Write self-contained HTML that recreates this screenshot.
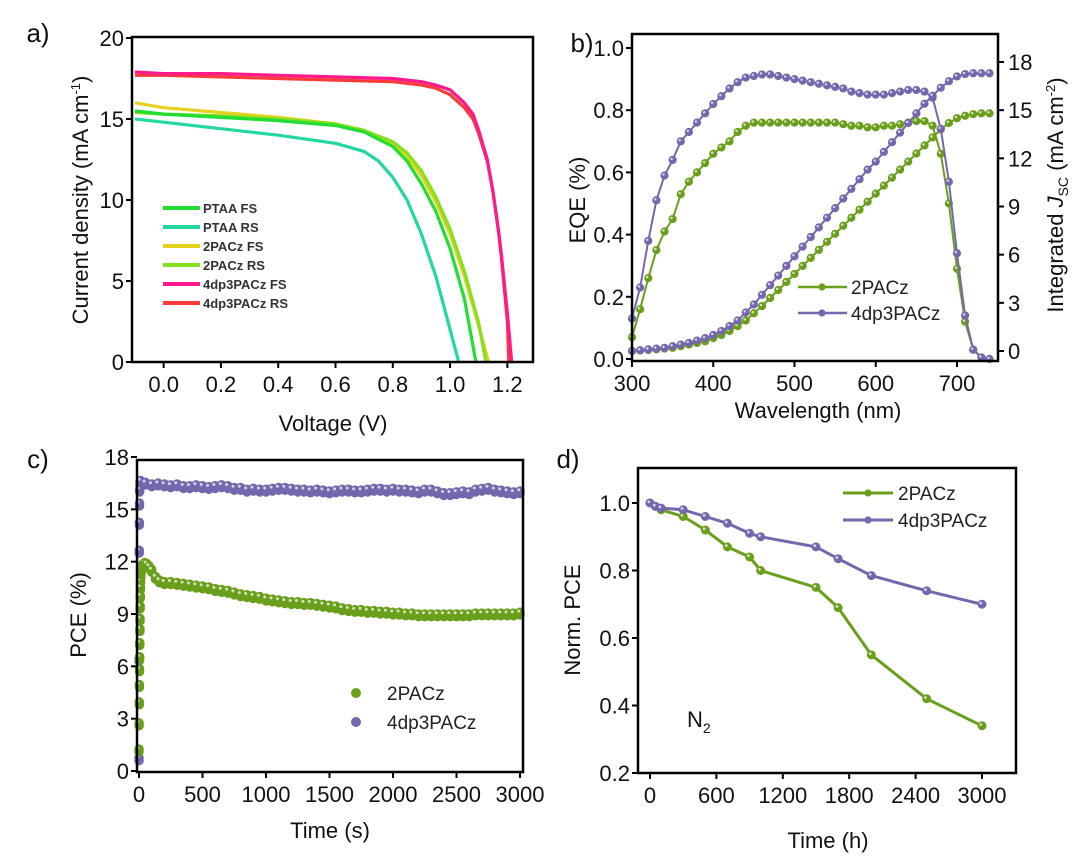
<!DOCTYPE html>
<html><head><meta charset="utf-8"><style>
html,body{margin:0;padding:0;background:#fff;}
svg{display:block;font-family:"Liberation Sans",Arial,sans-serif;}
</style></head><body>
<svg id="fig" width="1080" height="861" viewBox="0 0 1080 861" xmlns="http://www.w3.org/2000/svg"></svg>
<script>
// ---- Panel a data (J-V) ----
const jvNames = ["PTAA FS","PTAA RS","2PACz FS","2PACz RS","4dp3PACz FS","4dp3PACz RS"];
const ptaaFsV = [-0.1,0,0.2,0.4,0.6,0.7,0.8,0.85,0.9,0.95,1.0,1.05,1.09];
const ptaaFsJ = [15.5,15.3,15.1,14.9,14.6,14.2,13.3,12.4,11.0,9.3,7.0,3.9,0];
const ptaaRsV = [-0.1,0,0.2,0.4,0.6,0.7,0.75,0.8,0.85,0.9,0.95,1.0,1.03];
const ptaaRsJ = [15.0,14.8,14.4,14.0,13.5,13.0,12.4,11.4,10.0,7.9,5.3,2.0,0];
const pacFsV = [-0.1,0,0.2,0.4,0.6,0.7,0.8,0.85,0.9,0.95,1.0,1.05,1.1,1.135];
const pacFsJ = [16.0,15.7,15.4,15.1,14.7,14.3,13.5,12.7,11.5,9.9,7.9,5.3,2.2,0];
const pacRsV = [-0.1,0,0.2,0.4,0.6,0.7,0.8,0.85,0.9,0.95,1.0,1.05,1.1,1.125];
const pacRsJ = [15.4,15.3,15.2,15.0,14.7,14.3,13.6,12.9,11.8,10.2,8.2,5.6,2.4,0];
const dpFsV = [-0.1,0,0.2,0.4,0.6,0.8,0.9,0.95,1.0,1.05,1.08,1.1,1.13,1.15,1.17,1.18,1.2,1.215];
const dpFsJ = [17.9,17.8,17.8,17.7,17.6,17.5,17.3,17.1,16.8,16.0,15.3,14.3,12.5,10.5,8.0,6.5,3.0,0];
const dpRsV = [-0.1,0,0.2,0.4,0.6,0.8,0.9,0.95,1.0,1.05,1.08,1.1,1.13,1.15,1.17,1.18,1.2,1.205];
const dpRsJ = [17.7,17.7,17.6,17.5,17.4,17.3,17.1,16.9,16.5,15.7,15.0,14.1,12.4,10.5,7.9,6.3,2.5,0];
const jvColors = ["#22dd33","#22d8a0","#e6d21e","#86e01e","#ff1a8c","#ff3a3a"];
const aXTicks = [0,0.2,0.4,0.6,0.8,1.0,1.2];
const aYTicks = [0,5,10,15,20];

// ---- Panel b data (EQE) ----
const wl = [300,310,320,330,340,350,360,370,380,390,400,410,420,430,440,450,460,470,480,490,500,510,520,530,540,550,560,570,580,590,600,610,620,630,640,650,660,670,680,690,700,710,720,730,740];
const eqeDp = [0.13,0.23,0.38,0.51,0.59,0.64,0.70,0.73,0.76,0.79,0.82,0.845,0.87,0.89,0.905,0.91,0.915,0.915,0.91,0.905,0.90,0.895,0.89,0.885,0.88,0.875,0.87,0.86,0.855,0.85,0.85,0.85,0.855,0.86,0.865,0.865,0.86,0.84,0.74,0.57,0.34,0.14,0.03,0.005,0];
const eqePac = [0.07,0.16,0.26,0.35,0.41,0.45,0.53,0.57,0.60,0.63,0.66,0.68,0.70,0.73,0.75,0.76,0.76,0.76,0.76,0.76,0.76,0.76,0.76,0.76,0.76,0.76,0.755,0.75,0.75,0.745,0.745,0.75,0.75,0.755,0.76,0.765,0.765,0.75,0.66,0.50,0.29,0.12,0.03,0.005,0];
const jscDp = [0,0.05,0.1,0.15,0.2,0.3,0.4,0.5,0.65,0.8,1.0,1.25,1.55,1.9,2.4,2.9,3.5,4.1,4.7,5.3,5.9,6.5,7.1,7.7,8.3,8.9,9.5,10.1,10.7,11.3,11.8,12.4,13.0,13.6,14.2,14.8,15.4,15.9,16.4,16.8,17.1,17.25,17.3,17.3,17.3];
const jscPac = [0,0.03,0.06,0.1,0.15,0.2,0.3,0.4,0.5,0.6,0.8,1.0,1.25,1.55,1.9,2.35,2.8,3.3,3.8,4.3,4.8,5.3,5.8,6.3,6.8,7.3,7.8,8.3,8.8,9.3,9.8,10.3,10.8,11.3,11.8,12.3,12.8,13.3,13.8,14.2,14.5,14.65,14.75,14.8,14.8];
const bXTicks = [300,400,500,600,700];
const bYTicks = [0,0.2,0.4,0.6,0.8,1.0];
const bYLabels = ["0.0","0.2","0.4","0.6","0.8","1.0"];
const bY2Ticks = [0,3,6,9,12,15,18];

// ---- Panel c data (PCE tracking) ----
const cGreenT = [0,1,2,3,4,5,6,7,8,9,10,11,12,14,16,20,30,45,60,80,100,130,160,200,250,300,350,400,450,500,550,600,650,700,750,800,850,900,950,1000,1050,1100,1150,1200,1250,1300,1350,1400,1450,1500,1550,1600,1650,1700,1750,1800,1850,1900,1950,2000,2050,2100,2150,2200,2250,2300,2350,2400,2450,2500,2550,2600,2650,2700,2750,2800,2850,2900,2950,3000];
const cGreenV = [1.1,2.6,3.8,4.8,5.7,6.4,7.2,8.0,8.6,9.3,9.9,10.4,10.8,11.1,11.3,11.5,11.7,11.8,11.75,11.6,11.4,11.0,10.8,10.7,10.7,10.65,10.6,10.55,10.5,10.45,10.4,10.3,10.25,10.2,10.1,10.0,9.95,9.9,9.85,9.75,9.7,9.65,9.6,9.55,9.55,9.5,9.5,9.45,9.4,9.35,9.3,9.2,9.15,9.1,9.1,9.05,9.05,9.0,9.0,8.95,8.95,8.9,8.9,8.85,8.85,8.85,8.85,8.85,8.85,8.85,8.85,8.85,8.9,8.9,8.9,8.9,8.9,8.9,8.9,8.95];
const cPurpleT = [0,1,2,3,4,5,8,12,50,100,150,200,250,300,350,400,450,500,550,600,650,700,750,800,850,900,950,1000,1050,1100,1150,1200,1250,1300,1350,1400,1450,1500,1550,1600,1650,1700,1750,1800,1850,1900,1950,2000,2050,2100,2150,2200,2250,2300,2350,2400,2450,2500,2550,2600,2650,2700,2750,2800,2850,2900,2950,3000];
const cPurpleV = [0.6,6.3,12.5,14.1,15.2,16.0,16.4,16.5,16.4,16.3,16.35,16.3,16.25,16.3,16.2,16.2,16.25,16.2,16.15,16.2,16.25,16.2,16.1,16.1,16.0,16.05,16.0,16.0,16.05,16.1,16.1,16.05,16.0,16.0,15.95,16.0,15.95,15.9,15.95,16.0,16.0,15.95,15.95,16.0,16.05,16.05,16.0,16.05,16.0,16.0,15.95,15.9,16.0,16.0,15.9,15.8,15.8,15.85,15.9,15.85,16.0,16.05,16.1,16.0,15.95,15.9,15.85,15.9];
const cXTicks = [0,500,1000,1500,2000,2500,3000];
const cYTicks = [0,3,6,9,12,15,18];

// ---- Panel d data (stability) ----
const dT = [0,50,100,300,500,700,900,1000,1500,1700,2000,2500,3000];
const dGreen = [1.0,0.99,0.98,0.96,0.92,0.87,0.84,0.80,0.75,0.69,0.55,0.42,0.34];
const dPurple = [1.0,0.99,0.985,0.98,0.96,0.94,0.91,0.90,0.87,0.835,0.785,0.74,0.70];
const dXTicks = [0,600,1200,1800,2400,3000];
const dYTicks = [0.2,0.4,0.6,0.8,1.0];

const GREEN = "#6a9f1c", PURPLE = "#7467ad";
const TF = 22, AF = 22;
const NS = "http://www.w3.org/2000/svg";
const svg = document.getElementById("fig");
function el(tag, attrs, parent, text){
  const e = document.createElementNS(NS, tag);
  for (const k in attrs) e.setAttribute(k, attrs[k]);
  if (text !== undefined) e.textContent = text;
  (parent || svg).appendChild(e);
  return e;
}
function scale(d0,d1,r0,r1){ return v => r0 + (v-d0)*(r1-r0)/(d1-d0); }

function frame(g, L, T, R, B){
  const f = el("rect",{x:L,y:T,width:R-L,height:B-T,fill:"none",stroke:"#000","stroke-width":2.5},g);
  
  
}
function xTicks(g, ticks, labels, sx, B, fs){
  ticks.forEach((t,i)=>{
    const x = sx(t);
    const tk = el("line",{x1:x,y1:B,x2:x,y2:B+6,stroke:"#000","stroke-width":2},g);
    
    
    const lb = el("text",{x:x,y:B+30,"font-size":fs,"text-anchor":"middle",fill:"#111"},g,labels[i]);
    
    
  });
}
function yTicks(g, ticks, labels, sy, L, fs, right){
  ticks.forEach((t,i)=>{
    const y = sy(t);
    const tk = el("line",{x1:L,y1:y,x2:right?L+6:L-6,y2:y,stroke:"#000","stroke-width":2},g);
    
    
    const lb = el("text",{x:right?L+10:L-8,y:y+8,"font-size":fs,"text-anchor":right?"start":"end",fill:"#111"},g,labels[i]);
    
    
  });
}
function poly(g, xs, ys, sx, sy, color, w){
  const pts = xs.map((x,i)=>sx(x).toFixed(1)+","+sy(ys[i]).toFixed(1)).join(" ");
  return el("polyline",{points:pts,fill:"none",stroke:color,"stroke-width":w,"stroke-linejoin":"round"},g);
}
function markers(g, xs, ys, sx, sy, color, r){
  xs.forEach((x,i)=>{
    const c = el("circle",{cx:sx(x),cy:sy(ys[i]),r:r,fill:color,stroke:color,"stroke-width":1},g);
    
    
    el("circle",{cx:sx(x)-r*0.3,cy:sy(ys[i])-r*0.3,r:r*0.35,fill:"#fff","fill-opacity":0.7},g);
  });
}
function label(g,x,y,txt,fs,rot,anchor,name){
  const t = el("text",{x:x,y:y,"font-size":fs,"text-anchor":anchor||"middle",fill:"#111",transform:rot?`rotate(-90 ${x} ${y})`:""},g,txt);
  
  
  return t;
}

// ===== Panel a =====
(function(){
  const g = el("g",{});
  
  
  const L=132,T=37,R=533,B=362;
  const sx = scale(-0.1,1.3,L+3,R+3), sy = scale(0,20,B,T+1);
  label(g,38,42,"a)",26,false,"middle","panel-label-a");
  const xs=[ptaaFsV,ptaaRsV,pacFsV,pacRsV,dpFsV,dpRsV], ys=[ptaaFsJ,ptaaRsJ,pacFsJ,pacRsJ,dpFsJ,dpRsJ];
  [5,4,2,3,0,1].forEach(i=>{
    const p = poly(g,xs[i],ys[i],sx,sy,jvColors[i],3.2);
    
    
  });
  frame(g,L,T,R,B);
  xTicks(g,aXTicks,aXTicks.map(v=>v.toFixed(1)),sx,B,TF);
  yTicks(g,aYTicks,aYTicks.map(String),sy,L,TF,false);
  label(g,333,431,"Voltage (V)",AF,false,"middle","x-axis-title");
  const yt = label(g,88,200,"",AF,true,"middle","y-axis-title");
  yt.innerHTML = 'Current density (mA cm<tspan dy="-8" font-size="13">-1</tspan><tspan dy="8">)</tspan>';
  jvNames.forEach((n,i)=>{
    const y = 208 + i*19;
    const ln = el("line",{x1:163,y1:y,x2:200,y2:y,stroke:jvColors[i],"stroke-width":4},g);
    
    
    const t = el("text",{x:203,y:y+5,"font-size":13,"font-weight":"bold",fill:"#333"},g,n);
    
    
  });
})();

// ===== Panel b =====
(function(){
  const g = el("g",{});
  
  
  const L=632,T=34,R=998,B=361;
  const sx = scale(300,700,632,957), sy = scale(0,1,359,48), sy2 = scale(0,18,351,62);
  label(g,582,52,"b)",26,false,"middle","panel-label-b");
  [[eqePac,sy,GREEN],[jscPac,sy2,GREEN],[eqeDp,sy,PURPLE],[jscDp,sy2,PURPLE]].forEach(s=>{
    const p = poly(g,wl,s[0],sx,s[1],s[2],2);
    
    
    markers(g,wl,s[0],sx,s[1],s[2],3.6);
  });
  frame(g,L,T,R,B);
  xTicks(g,bXTicks,bXTicks.map(String),sx,B,TF);
  yTicks(g,bYTicks,bYLabels,sy,L,TF,false);
  yTicks(g,bY2Ticks,bY2Ticks.map(String),sy2,R,TF,true);
  label(g,818,418,"Wavelength (nm)",AF,false,"middle","x-axis-title");
  label(g,585,200,"EQE (%)",AF,true,"middle","y-axis-title");
  const yt = label(g,1063,195,"",AF,true,"middle","y2-axis-title");
  yt.innerHTML = 'Integrated <tspan font-style="italic">J</tspan><tspan dy="5" font-size="14">SC</tspan><tspan dy="-5"> (mA cm</tspan><tspan dy="-8" font-size="13">-2</tspan><tspan dy="8">)</tspan>';
  [["2PACz",GREEN,287],["4dp3PACz",PURPLE,313]].forEach(l=>{
    const ln = el("line",{x1:798,y1:l[2],x2:847,y2:l[2],stroke:l[1],"stroke-width":2.5},g);
    
    
    el("circle",{cx:822,cy:l[2],r:3.6,fill:l[1]},g);
    const t = el("text",{x:851,y:l[2]+7,"font-size":19,fill:"#222"},g,l[0]);
    
    
  });
})();

// ===== Panel c =====
(function(){
  const g = el("g",{});
  
  
  const L=137,T=460,R=523,B=772;
  const sx = scale(0,3000,139,520), sy = scale(0,18,771,457);
  label(g,38,468,"c)",26,false,"middle","panel-label-c");
  markers(g,cPurpleT,cPurpleV,sx,sy,PURPLE,4.3);
  markers(g,cPurpleT,cPurpleV.map(v=>v+0.15),sx,sy,PURPLE,4.3);
  markers(g,cGreenT,cGreenV,sx,sy,GREEN,4.3);
  markers(g,cGreenT,cGreenV.map(v=>v+0.15),sx,sy,GREEN,4.3);
  frame(g,L,T,R,B);
  xTicks(g,cXTicks,cXTicks.map(String),sx,B,TF);
  yTicks(g,cYTicks,cYTicks.map(String),sy,L,TF,false);
  label(g,330,838,"Time (s)",AF,false,"middle","x-axis-title");
  label(g,86,615,"PCE (%)",AF,true,"middle","y-axis-title");
  [["2PACz",GREEN,693],["4dp3PACz",PURPLE,722]].forEach(l=>{
    const c = el("circle",{cx:356,cy:l[2],r:5,fill:l[1]},g);
    
    
    const t = el("text",{x:387,y:l[2]+7,"font-size":19,fill:"#222"},g,l[0]);
    
    
  });
})();

// ===== Panel d =====
(function(){
  const g = el("g",{});
  
  
  const L=638,T=468,R=1016,B=773;
  const sx = scale(0,3000,650,982), sy = scale(0.2,1.0,773,503);
  label(g,568,468,"d)",26,false,"middle","panel-label-d");
  [[dGreen,GREEN],[dPurple,PURPLE]].forEach(s=>{
    const p = poly(g,dT,s[0],sx,sy,s[1],3);
    
    
    markers(g,dT,s[0],sx,sy,s[1],4);
  });
  frame(g,L,T,R,B);
  xTicks(g,dXTicks,dXTicks.map(String),sx,B,TF);
  yTicks(g,dYTicks,dYTicks.map(v=>v.toFixed(1)),sy,L,TF,false);
  label(g,828,848,"Time (h)",AF,false,"middle","x-axis-title");
  label(g,580,620,"Norm. PCE",AF,true,"middle","y-axis-title");
  const n2 = label(g,687,727,"",AF,false,"start","n2-annotation");
  n2.innerHTML = 'N<tspan dy="6" font-size="14">2</tspan>';
  [["2PACz",GREEN,493],["4dp3PACz",PURPLE,520]].forEach(l=>{
    const ln = el("line",{x1:843,y1:l[2],x2:893,y2:l[2],stroke:l[1],"stroke-width":3},g);
    
    
    el("circle",{cx:868,cy:l[2],r:3.6,fill:l[1]},g);
    const t = el("text",{x:898,y:l[2]+7,"font-size":19,fill:"#222"},g,l[0]);
    
    
  });
})();
</script>
</body></html>
